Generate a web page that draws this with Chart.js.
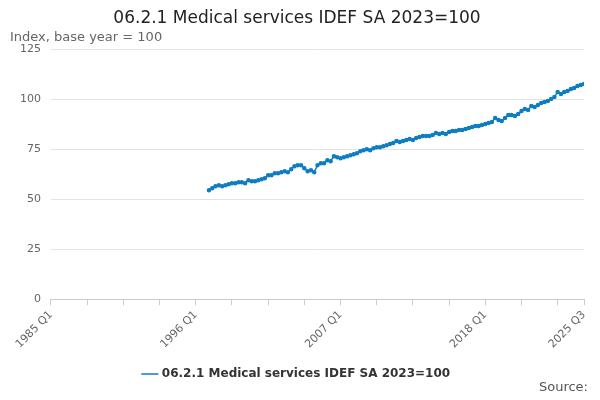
<!DOCTYPE html>
<html>
<head>
<meta charset="utf-8">
<script src="https://cdn.jsdelivr.net/npm/chart.js@4"></script>
<style>
  body { margin: 0; background: #fff; font-family: "DejaVu Sans", sans-serif; }
  #wrap { position: relative; width: 600px; height: 400px; }
  #src { position: absolute; right: 12px; bottom: 6px; font-size: 13px; color: #555; }
</style>
</head>
<body>
<div id="wrap">
  <canvas id="chart" width="600" height="400"></canvas>
  <div id="src">Source:</div>
</div>
<script>
// quarterly index, starting 1997 Q1 (quarter 48 counted from 1985 Q1)
const startQuarter = 48;
const values = [
  54.5, 55.5, 56.5, 57, 56.5, 57, 57.5, 58, 58, 58.5, 58.5, 58,
  59.5, 59, 59, 59.5, 60, 60.5, 62, 62, 63, 63, 63.5, 64,
  63.5, 65, 66.5, 67, 67, 65.5, 64, 64.5, 63.5, 67, 68, 68,
  69.5, 69, 71.5, 71, 70.5, 71, 71.5, 72, 72.5, 73, 74, 74.5,
  75, 74.5, 75.5, 76, 76, 76.5, 77, 77.5, 78, 79, 78.5, 79,
  79.5, 80, 79.5, 80.5, 81, 81.5, 81.5, 81.5, 82, 83, 82.5, 83,
  82.5, 83.5, 84, 84, 84.5, 84.5, 85, 85.5, 86, 86.5, 86.5, 87,
  87.5, 88, 88.5, 90.5, 89.5, 89, 90.5, 92, 92, 91.5, 92.5, 94,
  95, 94.5, 96.5, 96, 97, 98, 98.5, 99, 100, 101, 103.5, 102.5,
  103.5, 104, 105, 105.5, 106.5, 107, 107.5
];
const tickQuarters = [0, 11, 22, 33, 44, 55, 66, 77, 88, 99, 110, 121, 132, 143, 154, 162];
const labelQuarters = [0, 44, 88, 132, 162];
const yTicks = [0, 25, 50, 75, 100, 125];
const seriesName = '06.2.1 Medical services IDEF SA 2023=100';

function quarterLabel(q) {
  return (1985 + Math.floor(q / 4)) + ' Q' + (q % 4 + 1);
}

const points = values.map((v, i) => ({ x: startQuarter + i, y: v }));

new Chart(document.getElementById('chart'), {
  type: 'line',
  data: {
    datasets: [{
      label: seriesName,
      data: points,
      borderColor: '#0f7dc2',
      backgroundColor: '#0f7dc2',
      borderWidth: 1.5,
      pointRadius: 1.5,
      pointHoverRadius: 3,
      tension: 0
    }]
  },
  options: {
    responsive: false,
    animation: false,
    layout: { padding: { left: 10, right: 16, bottom: 10 } },
    plugins: {
      title: {
        display: true, text: '06.2.1 Medical services IDEF SA 2023=100',
        color: '#222', font: { size: 17, weight: 'normal', family: 'DejaVu Sans' }, padding: { top: 8, bottom: 1 }
      },
      subtitle: {
        display: true, text: 'Index, base year = 100', align: 'start',
        color: '#666', font: { size: 13, family: 'DejaVu Sans' }, padding: { bottom: 4 }
      },
      legend: {
        position: 'bottom',
        labels: {
          usePointStyle: true, pointStyle: 'line', boxWidth: 20, color: '#333',
          font: { size: 12, weight: 'bold', family: 'DejaVu Sans' }, padding: 14
        }
      }
    },
    scales: {
      x: {
        type: 'linear', min: 0, max: 162,
        afterBuildTicks: axis => { axis.ticks = tickQuarters.map(v => ({ value: v })); },
        ticks: {
          autoSkip: false, maxRotation: 45, minRotation: 45, color: '#666',
          font: { size: 11, family: 'DejaVu Sans' },
          callback: v => labelQuarters.includes(v) ? quarterLabel(v) : ''
        },
        grid: { drawOnChartArea: false, drawTicks: true, tickLength: 6, color: '#ccc' },
        border: { color: '#ccc' }
      },
      y: {
        min: 0, max: 125,
        afterBuildTicks: axis => { axis.ticks = yTicks.map(v => ({ value: v })); },
        ticks: { color: '#666', font: { size: 11, family: 'DejaVu Sans' }, padding: 10 },
        grid: { color: '#e3e3e3', drawTicks: false },
        border: { display: false }
      }
    }
  }
});
</script>
</body>
</html>
